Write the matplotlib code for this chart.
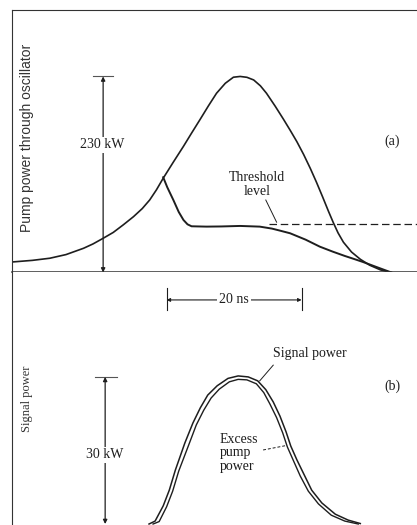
import matplotlib.pyplot as plt

# (a) pump power through the oscillator, time in ns, power in kW
t_pump = [0.0, 3.0, 5.6, 8.0, 10.6, 12.0, 13.5, 15.0, 16.5, 18.0, 19.3, 20.4,
          21.4, 22.4, 23.9, 25.4, 26.6, 27.9, 29.1, 30.3, 31.6, 32.8, 33.8,
          34.8, 35.8, 36.8, 37.7, 39.0, 40.2, 41.2, 42.2, 43.2, 44.2, 45.1,
          46.0, 46.9, 47.6, 48.3, 49.1, 50.3, 51.6, 53.0, 54.6, 56.2]
p_pump = [12.3, 14.2, 16.7, 21.0, 28.4, 33.5, 40.1, 47.0, 56.0, 65.5, 75.0,
          85.1, 97.0, 110.6, 129.5, 148.0, 163.5, 180.0, 195.5, 210.3, 222.0,
          229.1, 230.0, 229.0, 225.9, 219.0, 210.3, 195.0, 180.0, 167.0, 153.5,
          138.5, 122.0, 106.0, 89.0, 71.5, 58.5, 46.5, 35.5, 24.0, 15.5, 8.5,
          3.0, 0.0]

# pump power left after the signal starts (spike, then clamped near threshold)
t_out = [22.4, 23.0, 23.9, 24.7, 25.4, 26.0, 26.6, 28.8, 31.0, 33.8, 36.7, 38.5,
         39.7, 41.2, 43.5, 45.6, 47.5, 49.3, 50.8, 52.0, 53.8, 56.2]
p_out = [111.7, 100.0, 85.1, 71.0, 61.6, 56.5, 54.2, 53.8, 54.0, 54.6, 53.8, 51.5,
         49.1, 46.0, 38.5, 30.3, 24.5, 19.4, 15.5, 12.3, 7.0, 0.0]

threshold_kw = 56.9
threshold_t = [38.0, 60.0]

# (b) signal power and excess pump power, kW
t_signal = [20.3, 21.2, 22.4, 23.3, 24.2, 25.6, 26.8, 27.9, 29.0, 30.4, 32.0,
            33.5, 35.0, 36.4, 37.6, 38.7, 39.7, 40.6, 41.3, 42.2, 43.3, 44.4,
            45.9, 47.9, 49.8, 51.6]
p_signal = [0.0, 0.6, 3.7, 6.9, 11.0, 16.5, 20.6, 23.7, 26.3, 28.2, 29.7,
            30.2, 30.0, 29.2, 27.4, 24.9, 22.0, 18.8, 15.9, 13.1, 10.0, 6.9,
            4.3, 2.0, 0.8, 0.1]

t_excess = [20.9, 21.8, 22.9, 23.8, 24.7, 26.2, 27.3, 28.4, 29.5, 30.7, 32.2,
            33.5, 34.8, 36.2, 37.3, 38.2, 39.2, 40.1, 40.8, 41.7, 42.7, 43.9,
            45.4, 47.3, 49.3, 51.3]
p_excess = [0.0, 0.5, 3.5, 6.7, 10.8, 16.2, 20.2, 23.2, 25.7, 27.5, 29.0,
            29.5, 29.4, 28.6, 26.8, 24.5, 21.7, 18.6, 15.7, 12.9, 9.8, 6.7,
            4.1, 1.8, 0.6, 0.0]

pump_scale_kw = 230
signal_scale_kw = 30
scale_t = [22.9, 42.9]

ink = '#1e1e1e'
serif = 'Liberation Serif'

fig = plt.figure(figsize=(4.17, 5.25), dpi=100)
ax1 = fig.add_axes([0.0288, 0.481, 0.9712, 0.5])
ax2 = fig.add_axes([0.0288, 0.0, 0.9712, 0.481])

for ax in (ax1, ax2):
    ax.set_xlim(0, 60)
    ax.set_xticks([])
    ax.set_yticks([])
    for s in ax.spines.values():
        s.set_color('#333333')
        s.set_linewidth(0.8)
ax1.spines['right'].set_visible(False)
ax1.spines['bottom'].set_linewidth(1.1)
ax2.spines['right'].set_visible(False)
ax2.spines['top'].set_visible(False)
ax2.spines['bottom'].set_visible(False)

ax1.set_ylim(0, 308)
ax2.set_ylim(-0.2, 51.3)

# panel (a)
ax1.plot(t_pump, p_pump, color=ink, lw=1.2, solid_joinstyle='round')
ax1.plot(t_out, p_out, color=ink, lw=1.4, solid_joinstyle='round')
ax1.plot(threshold_t, [threshold_kw] * 2, color=ink, lw=0.9, ls=(0, (6, 3)))

ax1.annotate('', xy=(13.5, 0), xytext=(13.5, pump_scale_kw),
             arrowprops=dict(arrowstyle='<|-|>', color=ink, lw=0.9,
                             mutation_scale=6, shrinkA=0, shrinkB=0))
ax1.plot([12.0, 15.0], [pump_scale_kw] * 2, color='#555555', lw=0.8)
ax1.text(13.4, 150, '230 kW', ha='center', va='center', fontsize=10,
         family=serif, color=ink,
         bbox=dict(facecolor='white', edgecolor='none', pad=1))

ax1.text(36.3, 103, 'Threshold\nlevel', ha='center', va='center', fontsize=10,
         family=serif, color=ink, linespacing=1.05)
ax1.plot([37.6, 39.2], [85, 59], color=ink, lw=0.7)
ax1.text(56.3, 154, '(a)', ha='center', va='center', fontsize=10,
         family=serif, color=ink)
ax1.text(0.037, 0.512, 'Pump power through oscillator', transform=ax1.transAxes,
         rotation=90, ha='center', va='center', fontsize=10,
         family='Liberation Sans', color='#333333')

# 20 ns time scale
ax2.annotate('', xy=(scale_t[0], 45.7), xytext=(scale_t[1], 45.7),
             arrowprops=dict(arrowstyle='<|-|>', color=ink, lw=0.8,
                             mutation_scale=5, shrinkA=0, shrinkB=0))
for t in scale_t:
    ax2.plot([t, t], [43.7, 48.2], color=ink, lw=0.8)
ax2.text(sum(scale_t) / 2, 45.7, '20 ns', ha='center', va='center',
         fontsize=10, family=serif, color=ink,
         bbox=dict(facecolor='white', edgecolor='none', pad=1.5))

# panel (b)
ax2.plot(t_signal, p_signal, color=ink, lw=1.1, solid_joinstyle='round')
ax2.plot(t_excess, p_excess, color=ink, lw=1.0, solid_joinstyle='round')

ax2.annotate('', xy=(13.8, 0), xytext=(13.8, signal_scale_kw),
             arrowprops=dict(arrowstyle='<|-|>', color=ink, lw=0.9,
                             mutation_scale=6, shrinkA=0, shrinkB=0))
ax2.plot([12.3, 15.5], [signal_scale_kw] * 2, color='#555555', lw=0.8)
ax2.text(13.8, 14.1, '30 kW', ha='center', va='center', fontsize=10,
         family=serif, color=ink,
         bbox=dict(facecolor='white', edgecolor='none', pad=1))

ax2.text(44.1, 34.7, 'Signal power', ha='center', va='center', fontsize=10,
         family=serif, color=ink)
ax2.plot([36.7, 38.7], [29.2, 32.4], color=ink, lw=0.7)
ax2.text(30.8, 14.5, 'Excess\npump\npower', ha='left', va='center',
         fontsize=10, family=serif, color=ink, linespacing=1.05)
ax2.plot([37.2, 40.6], [15.1, 16.0], color=ink, lw=0.7, ls=(0, (3, 2)))
ax2.text(56.4, 28.0, '(b)', ha='center', va='center', fontsize=10,
         family=serif, color=ink)
ax2.text(0.037, 0.5, 'Signal power', transform=ax2.transAxes,
         rotation=90, ha='center', va='center', fontsize=9,
         family=serif, color='#333333')

fig.savefig('out.png', dpi=100, facecolor='white')
